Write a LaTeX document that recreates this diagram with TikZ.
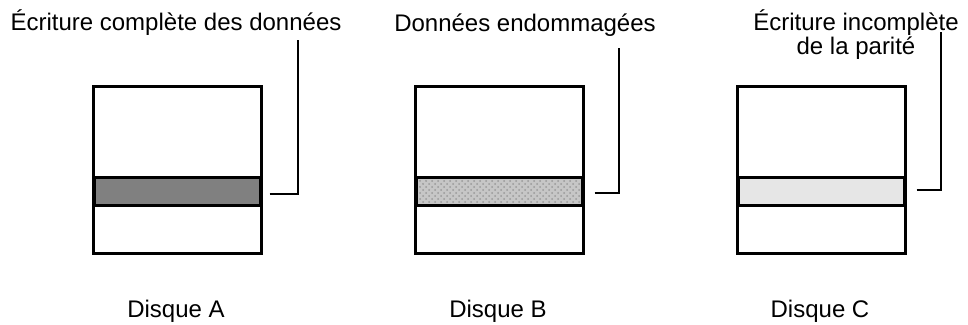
\documentclass[tikz,border=0pt]{standalone}
\usepackage{fontspec}
\setmainfont{Liberation Sans}
\usepackage{xcolor}
\definecolor{donneegray}{RGB}{128,128,128}
\definecolor{paritegray}{RGB}{230,230,230}
\usepackage{tikz}
\usetikzlibrary{
    positioning,
    calc,
    patterns
}

\begin{document}
\begin{tikzpicture}[x=0.5pt,y=-0.5pt,
    disque/.style={draw,line width=1.5pt,minimum width=84pt,minimum height=83.5pt,inner sep=0pt},
    bande/.style={draw,line width=1.5pt,minimum width=83pt,minimum height=14pt,inner sep=0pt},
    legende/.style={font=\fontsize{12}{11}\selectfont,inner sep=0pt,anchor=base},
    renvoi/.style={line width=1pt}]
    \useasboundingbox (0,0) rectangle (968,325);

    % Draw the three disks with their names
    \foreach \n/\x in {A/177,B/499,C/821} {
        \node[disque] (d\n) at (\x,170.5) {};
        \node[legende] (n\n) at (\x-1,318) {Disque \n};
    }

    % Stripes
    \node[bande,fill=donneegray] (bA) at (177,192) {};
    \node[bande,preaction={fill=gray!45},pattern=crosshatch dots,pattern color=gray!80] (bB) at (499,192) {};
    \node[bande,fill=paritegray] (bC) at (821,192) {};

    % Labels on top
    \node[legende] (lA) at (176,31) {Écriture complète des données};
    \node[legende] (lB) at (525,32) {Données endommagées};
    \node[legende,align=center] (lC) at (856,55) {Écriture incomplète\\de la parité};

    % Leader lines
    \coordinate (hA) at (298,40);
    \coordinate (hB) at (619,48);
    \coordinate (hC) at (941,32);
    \draw[renvoi] ([shift={(8,2)}]bA.east) -| (hA);
    \draw[renvoi] ([shift={(11,1)}]bB.east) -| (hB);
    \draw[renvoi] ([shift={(11,-2)}]bC.east) -| (hC);
\end{tikzpicture}
\end{document}
